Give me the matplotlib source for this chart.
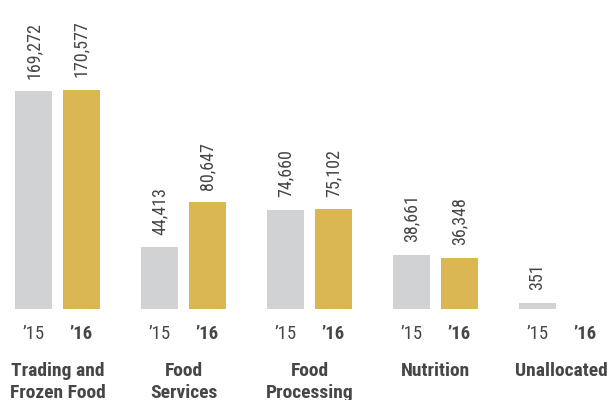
import numpy as np
import matplotlib.pyplot as plt

# Revenue by segment, '15 vs '16
categories = ["Trading and\nFrozen Food", "Food\nServices", "Food\nProcessing",
              "Nutrition", "Unallocated"]
rev_15 = [169272, 44413, 74660, 38661, 351]
rev_16 = [170577, 80647, 75102, 36348, None]
years = ["\u201915", "\u201916"]

c_15 = "#D1D2D4"
c_16 = "#DBB753"
txt = "#464646"
fam = ["Roboto Condensed", "DejaVu Sans"]

floor = 4800          # small stub so tiny values stay visible
top = 242400

fig = plt.figure(figsize=(6.09, 4.00), dpi=100)
ax = fig.add_axes([0, 91 / 400, 1, 309 / 400])
ax.set_xlim(-0.456, 4.377)
ax.set_ylim(-floor, top)
ax.axis("off")

x = np.arange(len(categories))
off = 0.19
w = 0.294

for i in range(len(categories)):
    for j, (vals, col) in enumerate(((rev_15, c_15), (rev_16, c_16))):
        xi = x[i] + (-off if j == 0 else off)
        v = vals[i]
        if v is not None:
            ax.bar(xi, v + floor, bottom=-floor, width=w, color=col, linewidth=0)
            ax.annotate("{:,}".format(v), (xi, v), xytext=(0, 9),
                        textcoords="offset points", rotation=90,
                        ha="center", va="bottom", fontsize=13,
                        color=txt, family=fam)
        ax.text(xi, -25 / 309, years[j], transform=ax.get_xaxis_transform(),
                ha="center", va="center", fontsize=13.5, color=txt,
                family=fam, fontweight="bold" if j == 1 else "normal",
                clip_on=False)
    ax.text(x[i], -53 / 309, categories[i], transform=ax.get_xaxis_transform(),
            ha="center", va="top", fontsize=14, color=txt, family=fam,
            fontweight="bold", linespacing=1.3, clip_on=False)

fig.savefig("out.png", dpi=100)
